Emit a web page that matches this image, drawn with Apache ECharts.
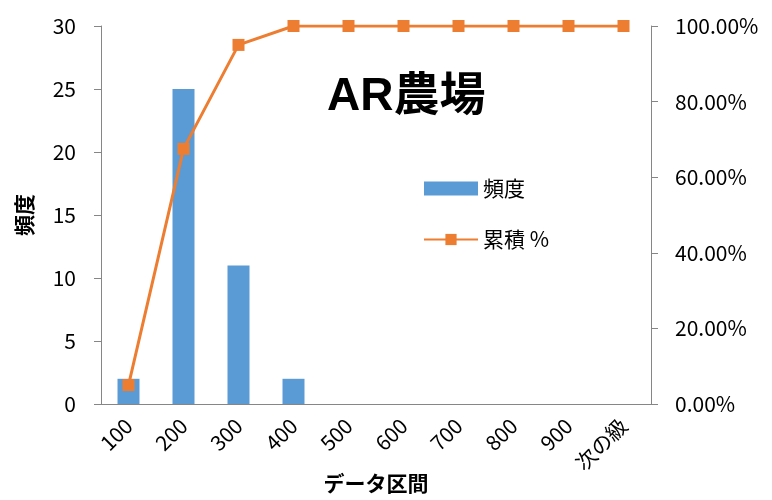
<!DOCTYPE html>
<html>
<head>
<meta charset="utf-8">
<script src="https://cdn.jsdelivr.net/npm/echarts@6/dist/echarts.min.js"></script>
<style>
	html,body{margin:0;padding:0;background:#fff;}
	#main{width:772px;height:500px;}
</style>
</head>
<body>
<div id="main"></div>
<script>
	var categories=['100','200','300','400','500','600','700','800','900','次の級'];
	var freq=[2,25,11,2,0,0,0,0,0,0];
	var cumPct=[0.05,0.675,0.95,1,1,1,1,1,1,1];

	var font='"Noto Sans CJK JP", "Open Sans", sans-serif';
	var axisColor='#868686';

	var myChart=echarts.init(document.getElementById('main'));
	var option={
		textStyle:{fontFamily:font},
		title:{
			text:'AR農場',
			left:322,
			top:69,
			textStyle:{fontSize:46,fontWeight:'bold',color:'#000',fontFamily:'"Liberation Sans", "Noto Sans CJK JP", sans-serif'}
		},
		legend:{
			orient:'vertical',
			left:418,
			top:173,
			itemWidth:54,
			itemHeight:14,
			itemGap:30,
			textStyle:{fontSize:21,color:'#000'},
			data:[{name:'頻度',icon:'rect'},{name:'累積 %'}]
		},
		grid:{left:101,right:121,top:26,bottom:96,outerBoundsMode:'none',containLabel:false},
		xAxis:{
			type:'category',
			data:categories,
			name:'データ区間',
			nameLocation:'middle',
			nameGap:69,
			nameMoveOverlap:false,
			nameTextStyle:{fontSize:21,fontWeight:'bold',color:'#000'},
			axisLine:{lineStyle:{color:axisColor}},
			axisTick:{alignWithLabel:false,length:7,lineStyle:{color:axisColor}},
			axisLabel:{rotate:45,fontSize:21,color:'#000',margin:18,interval:0}
		},
		yAxis:[
			{
				type:'value',
				min:0,max:30,interval:5,
				name:'頻度',
				nameLocation:'middle',
				nameRotate:90,
				nameGap:66,
				nameMoveOverlap:false,
				nameTextStyle:{fontSize:21,fontWeight:'bold',color:'#000'},
				axisLine:{show:true,lineStyle:{color:axisColor}},
				axisTick:{show:true,length:7,lineStyle:{color:axisColor}},
				axisLabel:{fontSize:21,color:'#000',margin:25},
				splitLine:{show:false}
			},
			{
				type:'value',
				min:0,max:1,interval:0.2,
				position:'right',
				axisLine:{show:true,lineStyle:{color:axisColor}},
				axisTick:{show:true,length:7,lineStyle:{color:axisColor}},
				axisLabel:{fontSize:21,color:'#000',margin:24,formatter:function(v){return (v*100).toFixed(2)+'%';}},
				splitLine:{show:false}
			}
		],
		series:[
			{
				name:'頻度',
				type:'bar',
				data:freq,
				barWidth:'40%',
				itemStyle:{color:'#5B9BD5'}
			},
			{
				name:'累積 %',
				type:'line',
				yAxisIndex:1,
				data:cumPct,
				symbol:'rect',
				symbolSize:12,
				lineStyle:{color:'#ED7D31',width:3},
				itemStyle:{color:'#ED7D31'}
			}
		]
	};
	myChart.setOption(option);
</script>
</body>
</html>
